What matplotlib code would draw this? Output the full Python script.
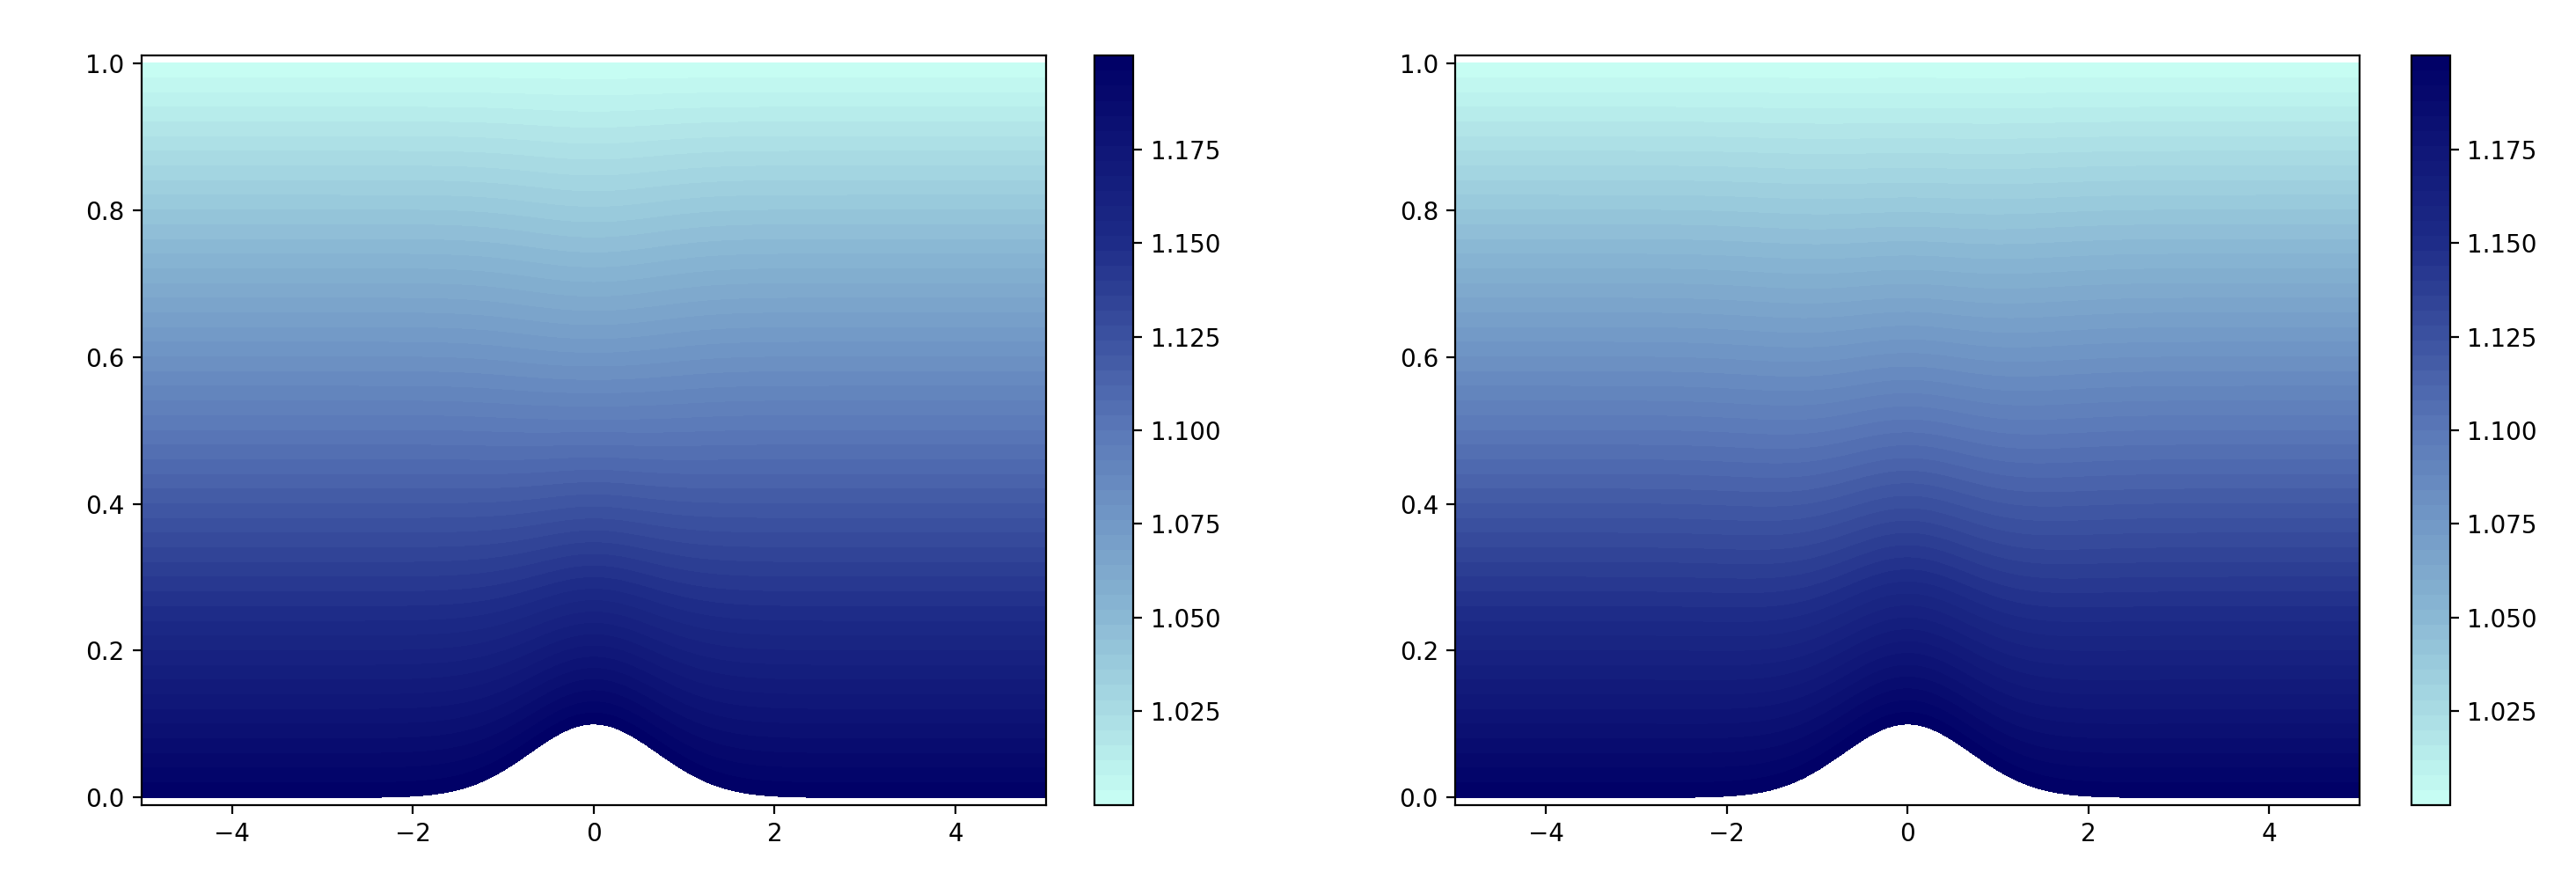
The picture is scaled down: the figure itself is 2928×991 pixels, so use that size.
import numpy as np
import matplotlib.pyplot as plt
from matplotlib.colors import LinearSegmentedColormap

# domain and field parameters
x_range = [-5.0, 5.0]
bump_height = 0.1
bump_width = 1.0
v_top = 1.0
v_bottom = 1.2
dip = [0.012, 0.008]       # lighter plume above the bump (left, right)
dip_width = [1.0, 1.8]
cbar_ticks = [1.025, 1.050, 1.075, 1.100, 1.125, 1.150, 1.175]

cmap = LinearSegmentedColormap.from_list('sea', ['#c8fff4', '#8ab8d4', '#5a78b8', '#1e2c88', '#000066'])

x = np.linspace(x_range[0], x_range[1], 400)
s = np.linspace(0, 1, 200)
X, S = np.meshgrid(x, s)
B = bump_height * np.exp(-X**2 / bump_width)
Y = B + S * (1 - B)

fig = plt.figure(figsize=(14.64, 4.955), dpi=200)
ax_pos = [[0.055, 0.077, 0.351, 0.859], [0.565, 0.077, 0.351, 0.859]]
cb_pos = [[0.425, 0.077, 0.015, 0.859], [0.936, 0.077, 0.015, 0.859]]

for i in range(2):
    ax = fig.add_axes(ax_pos[i])
    V = v_top + (v_bottom - v_top) * (1 - S) \
        - dip[i] * np.exp(-X**2 / dip_width[i]) * np.sin(np.pi * S)
    cs = ax.contourf(X, Y, V, levels=60, cmap=cmap, vmin=v_top, vmax=v_bottom)
    ax.set_xlim(-5, 5)
    ax.set_ylim(-0.01, 1.01)
    cax = fig.add_axes(cb_pos[i])
    cb = fig.colorbar(cs, cax=cax)
    cb.set_ticks(cbar_ticks)
    cb.set_ticklabels([f'{t:.3f}' for t in cbar_ticks])

plt.savefig('out.png', dpi=200)
